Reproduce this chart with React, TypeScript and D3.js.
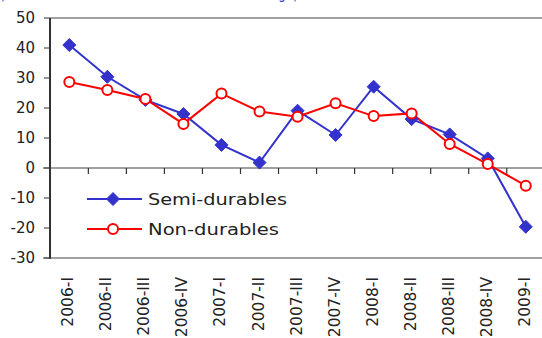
import React from "react";
import * as d3 from "d3";

const categories = [
  "2006-I", "2006-II", "2006-III", "2006-IV",
  "2007-I", "2007-II", "2007-III", "2007-IV",
  "2008-I", "2008-II", "2008-III", "2008-IV", "2009-I",
];
const semiDurables = [41, 30.4, 22.7, 18, 7.7, 1.8, 19.1, 11, 27.1, 16.3, 11.2, 3.2, -19.6];
const nonDurables = [28.7, 26, 23, 14.7, 24.8, 18.8, 17.1, 21.6, 17.3, 18.2, 8, 1.3, -5.9];
const yTicks = [-30, -20, -10, 0, 10, 20, 30, 40, 50];
const seriesNames = ["Semi-durables", "Non-durables"];
const titleText = "(Rate of sales increase in real terms in % change)";

const W = 542;
const H = 338;
const FONT = "'DejaVu Sans', sans-serif";
const BLUE = "#3333CC";
const RED = "#FF0000";

export default function App() {
  const x = d3.scaleBand<string>().domain(categories).range([50.3, 544.8]).padding(0);
  const y = d3.scaleLinear().domain([-30, 50]).range([258, 18]);
  const cx = (c: string) => (x(c) as number) + x.bandwidth() / 2;

  const line = d3
    .line<number>()
    .x((_, i) => cx(categories[i]))
    .y((v) => y(v));

  const diamond = (px: number, py: number, r: number) =>
    `M${px},${py - r}L${px + r},${py}L${px},${py + r}L${px - r},${py}Z`;

  const left = 50;
  const boundaries = categories.map((c) => x(c) as number).slice(1);

  const legendY = [199, 229];

  return (
    <svg width={W} height={H} style={{ position: "absolute", left: 0, top: 0, background: "#fff" }}>
      <rect x={0} y={0} width={W} height={H} fill="#fff" />
      <text x={0} y={-1.5} fontFamily={FONT} fontSize={15} fill={BLUE} textLength={298} lengthAdjust="spacingAndGlyphs">
        {titleText}
      </text>

      {/* top and bottom frame lines */}
      <line x1={left} x2={W} y1={y(50)} y2={y(50)} stroke="#808080" strokeWidth={1.5} />
      <line x1={43} x2={W} y1={y(-30)} y2={y(-30)} stroke="#808080" strokeWidth={1.5} />
      {/* zero line */}
      <line x1={43} x2={W} y1={y(0)} y2={y(0)} stroke="#808080" strokeWidth={1.5} />

      {/* y ticks */}
      {yTicks.map((t) => (
        <g key={t}>
          <line x1={44} x2={left} y1={y(t)} y2={y(t)} stroke="#555" strokeWidth={1.2} />
          <text
            x={35}
            y={y(t)}
            textAnchor="end"
            dominantBaseline="central"
            fontFamily={FONT}
            fontSize={15}
            fill="#222"
          >
            {t}
          </text>
        </g>
      ))}

      {/* x ticks on zero line */}
      {boundaries.map((b, i) => (
        <line key={i} x1={b} x2={b} y1={y(0)} y2={y(0) + 6} stroke="#333" strokeWidth={1.2} />
      ))}

      {/* left axis */}
      <line x1={left} x2={left} y1={y(50)} y2={y(-30) + 0.75} stroke="#333" strokeWidth={2} />

      {/* x labels */}
      {categories.map((c) => (
        <text
          key={c}
          transform={`translate(${cx(c) - 1},277) rotate(-90)`}
          textAnchor="end"
          dominantBaseline="central"
          fontFamily={FONT}
          fontSize={15.5}
          fill="#222"
        >
          {c}
        </text>
      ))}

      {/* series lines */}
      <path d={line(semiDurables) || ""} fill="none" stroke={BLUE} strokeWidth={2} />
      <path d={line(nonDurables) || ""} fill="none" stroke={RED} strokeWidth={2} />

      {semiDurables.map((v, i) => (
        <path key={"s" + i} d={diamond(cx(categories[i]), y(v), 6.5)} fill={BLUE} stroke={BLUE} strokeWidth={1} />
      ))}
      {nonDurables.map((v, i) => (
        <circle key={"n" + i} cx={cx(categories[i])} cy={y(v)} r={5} fill="#fff" stroke={RED} strokeWidth={2} />
      ))}

      {/* legend */}
      <line x1={87} x2={142} y1={legendY[0]} y2={legendY[0]} stroke={BLUE} strokeWidth={2} />
      <path d={diamond(113, legendY[0], 6.5)} fill={BLUE} stroke={BLUE} strokeWidth={1} />
      <text x={148} y={legendY[0]} dominantBaseline="central" fontFamily={FONT} fontSize={16} fill="#222" textLength={139} lengthAdjust="spacingAndGlyphs">
        {seriesNames[0]}
      </text>
      <line x1={87} x2={142} y1={legendY[1]} y2={legendY[1]} stroke={RED} strokeWidth={2} />
      <circle cx={113} cy={legendY[1]} r={5} fill="#fff" stroke={RED} strokeWidth={2} />
      <text x={148} y={legendY[1]} dominantBaseline="central" fontFamily={FONT} fontSize={16} fill="#222" textLength={131} lengthAdjust="spacingAndGlyphs">
        {seriesNames[1]}
      </text>
    </svg>
  );
}
